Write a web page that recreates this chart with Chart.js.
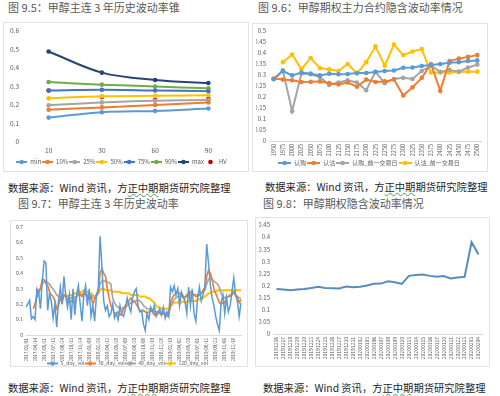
<!DOCTYPE html>
<html lang="zh-CN">
<head>
<meta charset="UTF-8">
<title>甲醇波动率</title>
<script src="https://cdn.jsdelivr.net/npm/chart.js"></script>
<style>
  body { margin: 0; background: #fff; font-family: "Noto Sans CJK SC", sans-serif; }
  .page { position: relative; width: 500px; height: 396px; overflow: hidden; }
  .title { position: absolute; font-size: 11px; line-height: 14px; color: #595959; white-space: nowrap; }
  .source { position: absolute; font-size: 10.3px; line-height: 14px; color: #262626; white-space: nowrap; }
  .sq { text-decoration: underline wavy #4ea24e; text-decoration-thickness: 1px; }
  .card { position: absolute; border: 1px solid #e2e2e2; background: #fff; overflow: hidden; }
  .card canvas { position: absolute; left: 0; top: 0; }
</style>
</head>
<body>
<div class="page">
  <div class="title" style="left:8px;top:0px">图 9.5：甲醇主连 3 年历史波动率锥</div>
  <div class="title" style="left:258px;top:0px">图 9.6：甲醇期权主力合约隐含波动率情况</div>
  <div class="card" style="left:3px;top:22px;width:244px;height:148px"><canvas id="cone" width="244" height="148"></canvas></div>
  <div class="card" style="left:252px;top:23px;width:234px;height:147px"><canvas id="strike" width="234" height="147"></canvas></div>
  <div class="source" style="left:8px;top:181px">数据来源：Wind 资讯，方<span class="sq">正中期</span>期货研究院整理</div>
  <div class="source" style="left:265px;top:180px">数据来源：Wind 资讯，方<span class="sq">正中期</span>期货研究院整理</div>

  <div class="title" style="left:18px;top:196px">图 9.7：甲醇主连 3 年历史波动率</div>
  <div class="title" style="left:263px;top:196px">图 9.8：甲醇期权隐含波动率情况</div>
  <div class="card" style="left:10px;top:220px;width:236px;height:145px"><canvas id="hist" width="236" height="145"></canvas></div>
  <div class="card" style="left:255px;top:217px;width:233px;height:148px"><canvas id="iv" width="233" height="148"></canvas></div>
  <div class="source" style="left:8px;top:381px">数据来源：Wind 资讯，方<span class="sq">正中期</span>期货研究院整理</div>
  <div class="source" style="left:263px;top:381px">数据来源：Wind 资讯，方<span class="sq">正中期</span>期货研究院整理</div>
</div>

<script>
  // 图 9.5 波动率锥
  const coneWindows = ['10', '30', '60', '90'];
  const coneMin = [0.132, 0.161, 0.168, 0.181];
  const cone10 = [0.174, 0.187, 0.200, 0.214];
  const cone25 = [0.198, 0.214, 0.223, 0.227];
  const cone50 = [0.236, 0.247, 0.250, 0.253];
  const cone75 = [0.278, 0.282, 0.278, 0.275];
  const cone90 = [0.324, 0.310, 0.300, 0.290];
  const coneMax = [0.489, 0.375, 0.335, 0.319];
  const coneHV = [0.278, 0.243, 0.227, 0.232];

  // 图 9.6 各行权价隐含波动率
  const strikes = ['1950', '1975', '2000', '2025', '2050', '2075', '2100', '2125', '2150', '2175', '2200', '2225',
                   '2250', '2275', '2300', '2325', '2350', '2375', '2400', '2425', '2450', '2475', '2500'];
  const ivCall = [0.281, 0.317, 0.297, 0.310, 0.305, 0.297, 0.305, 0.302, 0.303, 0.308, 0.308, 0.313,
                  0.317, 0.319, 0.332, 0.333, 0.340, 0.344, 0.349, 0.354, 0.357, 0.362, 0.365];
  const ivPut = [0.283, 0.278, 0.275, 0.267, 0.268, 0.270, 0.262, 0.256, 0.265, 0.246, 0.278, 0.267,
                 0.270, 0.278, 0.206, 0.243, 0.286, 0.349, 0.227, 0.362, 0.373, 0.381, 0.389];
  const ivCallPrev = [0.280, 0.320, 0.135, 0.305, 0.302, 0.290, 0.254, 0.265, 0.275, 0.265, 0.230, 0.313,
                      0.262, 0.281, 0.286, 0.281, 0.317, 0.341, 0.313, 0.322, 0.314, 0.333, 0.346];
  const ivPutPrev = [null, 0.357, 0.392, 0.325, 0.376, 0.330, 0.325, 0.317, 0.349, 0.306, 0.357, 0.429,
                     0.341, 0.437, 0.389, 0.405, 0.416, 0.310, 0.310, 0.310, 0.313, 0.314, 0.314];

  // 图 9.7 历史波动率（约每 6 个交易日一个点）
  const histTickDates = ['2017/03/01', '2017/04/14', '2017/05/31', '2017/07/13', '2017/08/24', '2017/10/13',
                         '2017/11/24', '2018/01/09', '2018/02/26', '2018/04/12', '2018/05/28', '2018/07/09',
                         '2018/08/20', '2018/10/08', '2018/11/19', '2018/12/28', '2019/02/19', '2019/04/02',
                         '2019/05/20', '2019/07/01', '2019/08/12', '2019/09/23', '2019/11/06', '2019/12/18'];
  const vol5 = [
    0.18, 0.20, 0.225, 0.105, 0.12, 0.10, 0.30, 0.28, 0.17, 0.35,
    0.48, 0.47, 0.16, 0.27, 0.22, 0.11, 0.20, 0.05, 0.22, 0.31,
    0.20, 0.38, 0.25, 0.18, 0.26, 0.10, 0.30, 0.13, 0.26, 0.32,
    0.20, 0.09, 0.26, 0.32, 0.19, 0.30, 0.12, 0.19, 0.09, 0.26,
    0.30, 0.64, 0.45, 0.22, 0.16, 0.19, 0.12, 0.14, 0.20, 0.11,
    0.14, 0.10, 0.19, 0.13, 0.12, 0.17, 0.24, 0.19, 0.15, 0.24,
    0.28, 0.30, 0.19, 0.15, 0.16, 0.07, 0.03, 0.14, 0.10, 0.18,
    0.15, 0.19, 0.12, 0.14, 0.17, 0.13, 0.18, 0.11, 0.15, 0.12,
    0.31, 0.28, 0.32, 0.26, 0.30, 0.19, 0.28, 0.25, 0.22, 0.14,
    0.31, 0.19, 0.30, 0.14, 0.09, 0.24, 0.31, 0.22, 0.26, 0.31,
    0.59, 0.47, 0.33, 0.24, 0.19, 0.12, 0.07, 0.03, 0.21, 0.26,
    0.14, 0.24, 0.15, 0.19, 0.28, 0.37, 0.26, 0.22, 0.12, 0.21];
  const vol30 = [
    null, null, null, null, 0.17, 0.20, 0.26, 0.29, 0.30, 0.36,
    0.36, 0.33, 0.32, 0.28, 0.26, 0.25, 0.22, 0.17, 0.19, 0.24,
    0.21, 0.26, 0.25, 0.23, 0.21, 0.22, 0.23, 0.20, 0.25, 0.27,
    0.26, 0.25, 0.27, 0.26, 0.24, 0.23, 0.25, 0.20, 0.23, 0.26,
    0.28, 0.40, 0.43, 0.40, 0.38, 0.30, 0.24, 0.19, 0.17, 0.14,
    0.14, 0.15, 0.13, 0.14, 0.17, 0.19, 0.21, 0.22, 0.24, 0.22,
    0.22, 0.20, 0.18, 0.16, 0.15, 0.16, 0.15, 0.14, 0.15, 0.16,
    0.15, 0.13, 0.14, 0.15, 0.14, 0.13, 0.14, 0.13, 0.12, 0.13,
    0.21, 0.24, 0.26, 0.27, 0.28, 0.27, 0.26, 0.24, 0.24, 0.26,
    0.27, 0.28, 0.27, 0.26, 0.25, 0.25, 0.26, 0.27, 0.29, 0.31,
    0.38, 0.42, 0.40, 0.36, 0.30, 0.27, 0.24, 0.21, 0.20, 0.21,
    0.21, 0.24, 0.25, 0.25, 0.27, 0.28, 0.26, 0.24, 0.21, 0.23];
  const vol40 = [
    null, null, null, null, null, null, 0.24, 0.27, 0.30, 0.33,
    0.35, 0.35, 0.34, 0.33, 0.31, 0.30, 0.28, 0.26, 0.25, 0.25,
    0.24, 0.25, 0.26, 0.25, 0.24, 0.24, 0.25, 0.24, 0.25, 0.26,
    0.27, 0.26, 0.27, 0.27, 0.26, 0.25, 0.26, 0.24, 0.24, 0.25,
    0.27, 0.33, 0.35, 0.35, 0.35, 0.34, 0.34, 0.33, 0.24, 0.21,
    0.19, 0.18, 0.17, 0.17, 0.18, 0.18, 0.19, 0.20, 0.21, 0.21,
    0.22, 0.22, 0.23, 0.22, 0.21, 0.19, 0.18, 0.17, 0.17, 0.16,
    0.16, 0.15, 0.15, 0.15, 0.15, 0.14, 0.14, 0.14, 0.14, 0.14,
    0.18, 0.21, 0.23, 0.24, 0.25, 0.25, 0.26, 0.25, 0.25, 0.25,
    0.26, 0.26, 0.27, 0.26, 0.26, 0.26, 0.26, 0.27, 0.28, 0.29,
    0.33, 0.36, 0.37, 0.36, 0.35, 0.34, 0.33, 0.31, 0.27, 0.25,
    0.24, 0.25, 0.25, 0.26, 0.26, 0.27, 0.26, 0.25, 0.24, 0.24];
  const vol120 = [
    null, null, null, null, null, null, null, null, null, null,
    null, null, null, null, null, null, null, null, null, null,
    null, null, null, 0.25, 0.26, 0.26, 0.26, 0.27, 0.27, 0.28,
    0.28, 0.28, 0.29, 0.28, 0.28, 0.27, 0.27, 0.26, 0.25, 0.26,
    0.27, 0.29, 0.30, 0.30, 0.29, 0.29, 0.29, 0.29, 0.28, 0.28,
    0.28, 0.28, 0.28, 0.27, 0.27, 0.27, 0.27, 0.27, 0.26, 0.26,
    0.26, 0.26, 0.26, 0.25, 0.25, 0.25, 0.25, 0.24, 0.24, 0.23,
    0.22, 0.21, 0.19, 0.18, 0.18, 0.17, 0.17, 0.17, 0.17, 0.17,
    0.19, 0.20, 0.21, 0.21, 0.21, 0.21, 0.21, 0.22, 0.21, 0.21,
    0.22, 0.22, 0.22, 0.22, 0.22, 0.23, 0.23, 0.24, 0.24, 0.25,
    0.26, 0.27, 0.27, 0.28, 0.28, 0.28, 0.29, 0.29, 0.29, 0.29,
    0.29, 0.29, 0.29, 0.29, 0.29, 0.29, 0.29, 0.29, 0.29, 0.29];

  // 图 9.8 隐含波动率
  const ivDates = ['20191216', '20191217', '20191218', '20191219', '20191220', '20191223', '20191224', '20191225',
                   '20191226', '20191227', '20191230', '20191231', '20200102', '20200103', '20200106', '20200107',
                   '20200108', '20200109', '20200110', '20200113', '20200114', '20200115', '20200116', '20200117',
                   '20200120', '20200121', '20200122', '20200123', '20200203', '20200204'];
  const ivValues = [0.186, 0.184, 0.181, 0.184, 0.186, 0.190, 0.195, 0.190, 0.189, 0.188, 0.196, 0.193,
                    0.195, 0.200, 0.207, 0.208, 0.218, 0.214, 0.207, 0.240, 0.244, 0.246, 0.240, 0.236,
                    0.239, 0.229, 0.233, 0.236, 0.379, 0.328];

  const BLUE = '#5B9BD5', ORANGE = '#ED7D31', GRAY = '#A5A5A5', YELLOW = '#FFC000';

  Chart.defaults.font.family = '"Noto Sans CJK SC", "Noto Sans", sans-serif';
  Chart.defaults.color = '#595959';
  Chart.defaults.animation = false;
  Chart.defaults.plugins.tooltip.enabled = false;

  // excel 风格图例：线段 + 圆点
  function legendIcon(color, w, dot, line) {
    const c = document.createElement('canvas');
    c.width = w; c.height = 6;
    const g = c.getContext('2d');
    if (line) {
      g.strokeStyle = color; g.lineWidth = 2;
      g.beginPath(); g.moveTo(0, 3); g.lineTo(w, 3); g.stroke();
    }
    if (dot) {
      g.fillStyle = color;
      g.beginPath(); g.arc(w / 2, 3, 2.3, 0, Math.PI * 2); g.fill();
    }
    return c;
  }

  function legendOpts(size, w, pad, dot) {
    return {
      position: 'bottom',
      labels: {
        font: { size: size },
        usePointStyle: true,
        pointStyleWidth: w,
        boxHeight: size,
        padding: pad,
        generateLabels: chart => Chart.defaults.plugins.legend.labels.generateLabels(chart).map((it, i) => {
          const ds = chart.data.datasets[i];
          it.pointStyle = legendIcon(ds.borderColor, w, dot, ds.showLine !== false);
          return it;
        })
      }
    };
  }

  function lineSet(label, data, color, extra) {
    return Object.assign({
      label: label, data: data, borderColor: color, backgroundColor: color,
      borderWidth: 2, pointRadius: 2.3, pointBorderWidth: 0, pointHoverRadius: 0
    }, extra || {});
  }

  const noGrid = { display: false, drawTicks: false };
  const shortNum = v => String(Math.round(v * 100) / 100);

  new Chart(document.getElementById('cone'), {
    type: 'line',
    data: {
      labels: coneWindows,
      datasets: [
        lineSet('min', coneMin, BLUE, { tension: 0.35 }),
        lineSet('10%', cone10, ORANGE, { tension: 0.35 }),
        lineSet('25%', cone25, GRAY, { tension: 0.35 }),
        lineSet('50%', cone50, YELLOW, { tension: 0.35 }),
        lineSet('75%', cone75, '#4472C4', { tension: 0.35 }),
        lineSet('90%', cone90, '#70AD47', { tension: 0.35 }),
        lineSet('max', coneMax, '#264478', { tension: 0.35 }),
        lineSet('HV', coneHV, '#C00000', { showLine: false })
      ]
    },
    options: {
      responsive: false, devicePixelRatio: 1,
      layout: { padding: { left: 4, right: 13, top: 8, bottom: -4 } },
      plugins: { legend: legendOpts(6, 11, true, 3) },
      scales: {
        x: { offset: true, grid: noGrid, border: { display: false }, ticks: { font: { size: 6.5 }, padding: 5 },
             afterFit: s => { s.height = 16; } },
        y: { min: 0, max: 0.6, grid: noGrid, border: { display: false },
             ticks: { stepSize: 0.1, font: { size: 6.5 }, padding: 3, callback: shortNum },
             afterFit: s => { s.width = 14; } }
      }
    }
  });

  new Chart(document.getElementById('strike'), {
    type: 'line',
    data: {
      labels: strikes,
      datasets: [
        lineSet('认购', ivCall, BLUE),
        lineSet('认沽', ivPut, ORANGE),
        lineSet('认购_前一交易日', ivCallPrev, GRAY),
        lineSet('认沽_前一交易日', ivPutPrev, YELLOW)
      ]
    },
    options: {
      responsive: false, devicePixelRatio: 1,
      layout: { padding: { left: 3, right: 5, top: 6, bottom: -5 } },
      plugins: { legend: legendOpts(6, 13, true, 7) },
      scales: {
        x: { offset: true, grid: noGrid, border: { color: '#d9d9d9' },
             ticks: { font: { size: 5.5 }, minRotation: 90, maxRotation: 90, autoSkip: false, padding: 3 },
             afterFit: s => { s.height = 18; } },
        y: { min: 0, max: 0.5, grid: noGrid, border: { display: false },
             ticks: { stepSize: 0.05, font: { size: 6 }, padding: 3, callback: shortNum },
             afterFit: s => { s.width = 13; } }
      }
    }
  });

  new Chart(document.getElementById('hist'), {
    type: 'line',
    data: {
      labels: vol5.map((v, i) => i),
      datasets: [
        lineSet('5_day_vol', vol5, BLUE, { borderWidth: 1.5, pointRadius: 0 }),
        lineSet('30_day_vol', vol30, ORANGE, { borderWidth: 1.6, pointRadius: 0 }),
        lineSet('40_day_vol', vol40, GRAY, { borderWidth: 1.6, pointRadius: 0 }),
        lineSet('120_day_vol', vol120, YELLOW, { borderWidth: 2, pointRadius: 0 })
      ]
    },
    options: {
      responsive: false, devicePixelRatio: 1,
      layout: { padding: { left: 3, right: 6, top: 4, bottom: -10 } },
      plugins: { legend: legendOpts(5, 11, false, 12) },
      scales: {
        x: { grid: noGrid, border: { color: '#d9d9d9' },
             ticks: { font: { size: 4.5 }, minRotation: 90, maxRotation: 90, autoSkip: false, padding: 3,
                      callback: (v, i) => (i % 5 ? null : histTickDates[i / 5]) },
             afterFit: s => { s.height = 26; } },
        y: { min: 0, max: 0.7, grid: noGrid, border: { display: false },
             ticks: { stepSize: 0.1, font: { size: 5 }, padding: 3, callback: shortNum },
             afterFit: s => { s.width = 12; } }
      }
    }
  });

  new Chart(document.getElementById('iv'), {
    type: 'line',
    data: {
      labels: ivDates,
      datasets: [lineSet('隐含波动率', ivValues, '#5A8BBF', { pointRadius: 0 })]
    },
    options: {
      responsive: false, devicePixelRatio: 1,
      layout: { padding: { left: 3, right: 7, top: 7, bottom: 2 } },
      plugins: { legend: { display: false } },
      scales: {
        x: { offset: true, grid: noGrid, border: { color: '#d9d9d9' },
             ticks: { font: { size: 5 }, minRotation: 90, maxRotation: 90, autoSkip: false, padding: 3 },
             afterFit: s => { s.height = 30; } },
        y: { min: 0, max: 0.45, grid: noGrid, border: { display: false },
             ticks: { stepSize: 0.05, font: { size: 6 }, padding: 3, callback: shortNum },
             afterFit: s => { s.width = 14; } }
      }
    }
  });
</script>
</body>
</html>
